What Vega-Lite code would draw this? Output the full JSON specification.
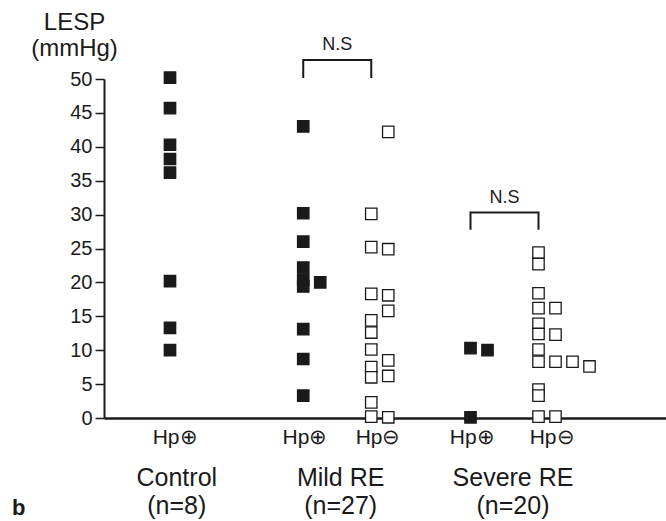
{
  "$schema": "https://vega.github.io/schema/vega-lite/v6.json",
  "width": 562,
  "height": 339,
  "autosize": {"type": "none"},
  "padding": {"left": 104, "top": 79, "right": 0, "bottom": 103},
  "background": "white",
  "config": {"view": {"stroke": null}, "font": "Liberation Sans"},
  "title": {"text": "b", "orient": "bottom", "anchor": "start", "frame": "group", "dx": -92, "offset": 0, "dy": -21, "fontSize": 22, "fontWeight": "bold", "color": "#1a1a1a", "font": "Liberation Sans"},
  "datasets": {
    "points": [
      {"group": "Control", "hp": "Hp+", "col": 0, "lesp": 50.2},
      {"group": "Control", "hp": "Hp+", "col": 0, "lesp": 45.7},
      {"group": "Control", "hp": "Hp+", "col": 0, "lesp": 40.3},
      {"group": "Control", "hp": "Hp+", "col": 0, "lesp": 38.2},
      {"group": "Control", "hp": "Hp+", "col": 0, "lesp": 36.2},
      {"group": "Control", "hp": "Hp+", "col": 0, "lesp": 20.2},
      {"group": "Control", "hp": "Hp+", "col": 0, "lesp": 13.3},
      {"group": "Control", "hp": "Hp+", "col": 0, "lesp": 10.0},
      {"group": "Mild RE", "hp": "Hp+", "col": 0, "lesp": 43.0},
      {"group": "Mild RE", "hp": "Hp+", "col": 0, "lesp": 30.2},
      {"group": "Mild RE", "hp": "Hp+", "col": 0, "lesp": 26.0},
      {"group": "Mild RE", "hp": "Hp+", "col": 0, "lesp": 22.2},
      {"group": "Mild RE", "hp": "Hp+", "col": 0, "lesp": 20.4},
      {"group": "Mild RE", "hp": "Hp+", "col": 0, "lesp": 19.4},
      {"group": "Mild RE", "hp": "Hp+", "col": 0, "lesp": 13.1},
      {"group": "Mild RE", "hp": "Hp+", "col": 0, "lesp": 8.7},
      {"group": "Mild RE", "hp": "Hp+", "col": 0, "lesp": 3.3},
      {"group": "Mild RE", "hp": "Hp+", "col": 1, "lesp": 20.0},
      {"group": "Mild RE", "hp": "Hp-", "col": 0, "lesp": 30.1},
      {"group": "Mild RE", "hp": "Hp-", "col": 0, "lesp": 25.2},
      {"group": "Mild RE", "hp": "Hp-", "col": 0, "lesp": 18.3},
      {"group": "Mild RE", "hp": "Hp-", "col": 0, "lesp": 14.4},
      {"group": "Mild RE", "hp": "Hp-", "col": 0, "lesp": 12.6},
      {"group": "Mild RE", "hp": "Hp-", "col": 0, "lesp": 10.1},
      {"group": "Mild RE", "hp": "Hp-", "col": 0, "lesp": 7.5},
      {"group": "Mild RE", "hp": "Hp-", "col": 0, "lesp": 6.0},
      {"group": "Mild RE", "hp": "Hp-", "col": 0, "lesp": 2.3},
      {"group": "Mild RE", "hp": "Hp-", "col": 0, "lesp": 0.2},
      {"group": "Mild RE", "hp": "Hp-", "col": 1, "lesp": 42.2},
      {"group": "Mild RE", "hp": "Hp-", "col": 1, "lesp": 24.9},
      {"group": "Mild RE", "hp": "Hp-", "col": 1, "lesp": 18.1},
      {"group": "Mild RE", "hp": "Hp-", "col": 1, "lesp": 15.8},
      {"group": "Mild RE", "hp": "Hp-", "col": 1, "lesp": 8.5},
      {"group": "Mild RE", "hp": "Hp-", "col": 1, "lesp": 6.2},
      {"group": "Mild RE", "hp": "Hp-", "col": 1, "lesp": 0.1},
      {"group": "Severe RE", "hp": "Hp+", "col": 0, "lesp": 10.3},
      {"group": "Severe RE", "hp": "Hp+", "col": 0, "lesp": 0.1},
      {"group": "Severe RE", "hp": "Hp+", "col": 1, "lesp": 10.0},
      {"group": "Severe RE", "hp": "Hp-", "col": 0, "lesp": 24.4},
      {"group": "Severe RE", "hp": "Hp-", "col": 0, "lesp": 22.7},
      {"group": "Severe RE", "hp": "Hp-", "col": 0, "lesp": 18.4},
      {"group": "Severe RE", "hp": "Hp-", "col": 0, "lesp": 16.2},
      {"group": "Severe RE", "hp": "Hp-", "col": 0, "lesp": 13.9},
      {"group": "Severe RE", "hp": "Hp-", "col": 0, "lesp": 12.4},
      {"group": "Severe RE", "hp": "Hp-", "col": 0, "lesp": 10.1},
      {"group": "Severe RE", "hp": "Hp-", "col": 0, "lesp": 8.3},
      {"group": "Severe RE", "hp": "Hp-", "col": 0, "lesp": 4.2},
      {"group": "Severe RE", "hp": "Hp-", "col": 0, "lesp": 3.3},
      {"group": "Severe RE", "hp": "Hp-", "col": 0, "lesp": 0.2},
      {"group": "Severe RE", "hp": "Hp-", "col": 1, "lesp": 16.2},
      {"group": "Severe RE", "hp": "Hp-", "col": 1, "lesp": 12.3},
      {"group": "Severe RE", "hp": "Hp-", "col": 1, "lesp": 8.3},
      {"group": "Severe RE", "hp": "Hp-", "col": 1, "lesp": 0.2},
      {"group": "Severe RE", "hp": "Hp-", "col": 2, "lesp": 8.3},
      {"group": "Severe RE", "hp": "Hp-", "col": 3, "lesp": 7.6}
    ],
    "brackets": [
      {"group": "Mild RE", "hp": "Hp+", "ord": 1, "lesp": 50.3},
      {"group": "Mild RE", "hp": "Hp+", "ord": 2, "lesp": 52.8},
      {"group": "Mild RE", "hp": "Hp-", "ord": 3, "lesp": 52.8},
      {"group": "Mild RE", "hp": "Hp-", "ord": 4, "lesp": 50.3},
      {"group": "Severe RE", "hp": "Hp+", "ord": 1, "lesp": 27.9},
      {"group": "Severe RE", "hp": "Hp+", "ord": 2, "lesp": 30.3},
      {"group": "Severe RE", "hp": "Hp-", "ord": 3, "lesp": 30.3},
      {"group": "Severe RE", "hp": "Hp-", "ord": 4, "lesp": 27.9}
    ],
    "ns": [
      {"group": "Mild RE", "slot": 0, "lesp": 52.8, "label": "N.S"},
      {"group": "Severe RE", "slot": 0, "lesp": 30.3, "label": "N.S"}
    ],
    "hplabels": [
      {"group": "Control", "slot": 0.3, "lesp": 0, "label": "Hp⊕"},
      {"group": "Mild RE", "slot": -1.9, "lesp": 0, "label": "Hp⊕"},
      {"group": "Mild RE", "slot": 2.4, "lesp": 0, "label": "Hp⊖"},
      {"group": "Severe RE", "slot": -1.9, "lesp": 0, "label": "Hp⊕"},
      {"group": "Severe RE", "slot": 2.8, "lesp": 0, "label": "Hp⊖"}
    ],
    "grouplabels": [
      {"group": "Control", "slot": 0.4, "lesp": 0, "label": ["Control", "(n=8)"]},
      {"group": "Mild RE", "slot": 0.2, "lesp": 0, "label": ["Mild RE", "(n=27)"]},
      {"group": "Severe RE", "slot": 0.5, "lesp": 0, "label": ["Severe RE", "(n=20)"]}
    ]
  },
  "encoding": {
    "x": {
      "field": "group", "type": "nominal",
      "scale": {"type": "point", "domain": ["Control", "Mild RE", "Severe RE"], "padding": 0.6801, "align": 0.2901},
      "axis": {"labels": false, "ticks": false, "title": null, "domainWidth": 2.5, "domainColor": "#1a1a1a"}
    },
    "xOffset": {"field": "slot", "type": "quantitative", "scale": {"domain": [-5, 5], "range": [-85, 85]}},
    "y": {
      "field": "lesp", "type": "quantitative",
      "scale": {"domain": [0, 50], "nice": false, "zero": true},
      "axis": {
        "values": [0, 5, 10, 15, 20, 25, 30, 35, 40, 45, 50],
        "labelOverlap": false,
        "labelFlush": false,
        "grid": false,
        "title": ["LESP", "(mmHg)"],
        "titleAngle": 0, "titleAlign": "center", "titleBaseline": "top",
        "titleX": -30, "titleY": -69,
        "titleFontSize": 24, "titleFontWeight": "normal", "titleLineHeight": 26,
        "titleColor": "#1a1a1a", "titleFont": "Liberation Sans",
        "labelFontSize": 20, "labelColor": "#1a1a1a", "labelFont": "Liberation Sans",
        "labelPadding": 3, "tickSize": 9, "tickWidth": 1.5, "tickColor": "#1a1a1a",
        "domainWidth": 2, "domainColor": "#1a1a1a"
      }
    }
  },
  "layer": [
    {
      "data": {"name": "points"},
      "transform": [{"calculate": "(datum.group == 'Control' ? 0 : (datum.hp == 'Hp+' ? -2 : 2)) + datum.col", "as": "slot"}],
      "mark": {"type": "square", "size": 130, "stroke": "#1a1a1a", "strokeWidth": 1.3, "opacity": 1},
      "encoding": {
        "fill": {
          "field": "hp", "type": "nominal",
          "scale": {"domain": ["Hp+", "Hp-"], "range": ["#1a1a1a", "#ffffff"]},
          "legend": null
        }
      }
    },
    {
      "data": {"name": "brackets"},
      "transform": [{"calculate": "datum.hp == 'Hp+' ? -2 : 2", "as": "slot"}],
      "mark": {"type": "line", "color": "#1a1a1a", "strokeWidth": 2, "strokeCap": "square"},
      "encoding": {
        "detail": {"field": "group"},
        "order": {"field": "ord", "type": "quantitative"}
      }
    },
    {
      "data": {"name": "ns"},
      "mark": {"type": "text", "baseline": "bottom", "dy": -6, "fontSize": 18, "color": "#1a1a1a"},
      "encoding": {
        "text": {"field": "label"}
      }
    },
    {
      "data": {"name": "hplabels"},
      "mark": {"type": "text", "baseline": "middle", "dy": 20, "fontSize": 21, "color": "#1a1a1a"},
      "encoding": {
        "text": {"field": "label"}
      }
    },
    {
      "data": {"name": "grouplabels"},
      "mark": {"type": "text", "baseline": "top", "dy": 48, "fontSize": 25, "lineHeight": 28, "color": "#1a1a1a"},
      "encoding": {
        "text": {"field": "label"}
      }
    }
  ]
}
